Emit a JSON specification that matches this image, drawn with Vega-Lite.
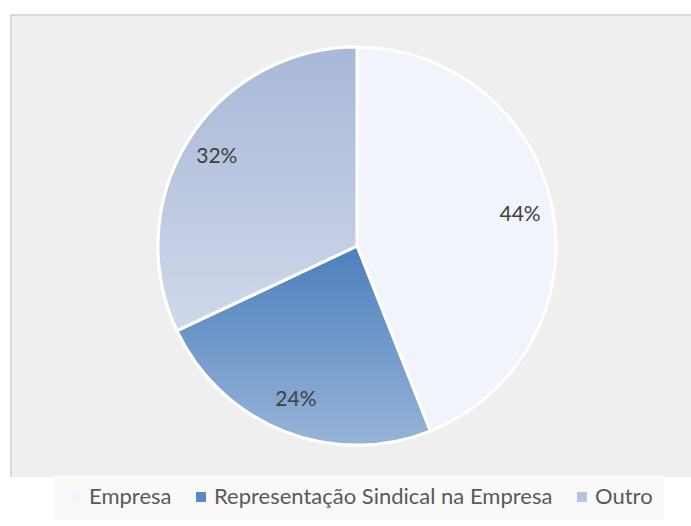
{
  "$schema": "https://vega.github.io/schema/vega-lite/v6.json",
  "autosize": "none",
  "padding": {"left": 11, "top": 15, "right": -12, "bottom": 49},
  "width": 692,
  "height": 462,
  "background": "white",
  "view": {"fill": "#efefef", "stroke": "#d9d9d9", "strokeWidth": 2, "strokeDash": [692, 1154, 462]},
  "config": {
    "font": "Lato"
  },
  "data": {
    "values": [
      {"cat": "Empresa", "value": 44, "label": "44%", "ord": 1},
      {"cat": "Representação Sindical na Empresa", "value": 24, "label": "24%", "ord": 2},
      {"cat": "Outro", "value": 32, "label": "32%", "ord": 3}
    ]
  },
  "layer": [
    {
      "mark": {"type": "arc", "outerRadius": 199, "stroke": "white", "strokeWidth": 3},
      "encoding": {
        "theta": {"field": "value", "type": "quantitative", "stack": true},
        "order": {"field": "ord", "type": "quantitative"},
        "color": {
          "field": "cat",
          "type": "nominal",
          "scale": {
            "domain": ["Empresa", "Representação Sindical na Empresa", "Outro"],
            "range": ["#f1f4fa", "#5b87c2", "#b6c4e0"]
          },
          "legend": {
            "title": null,
            "orient": "none",
            "direction": "horizontal",
            "legendX": 43,
            "legendY": 460,
            "padding": 11,
            "fillColor": "#f9f9f9",
            "symbolType": "square",
            "symbolSize": 100,
            "symbolStrokeWidth": 0,
            "labelFont": "Lato",
            "labelFontSize": 22,
            "labelColor": "#595959",
            "labelOffset": 2,
            "columnPadding": 18,
            "labelLimit": 500
          }
        }
      }
    },
    {
      "transform": [
        {"stack": "value", "groupby": [], "sort": [{"field": "ord"}], "as": ["v0", "v1"]},
        {"filter": "datum.cat === 'Representação Sindical na Empresa'"}
      ],
      "mark": {
        "type": "arc", "outerRadius": 199, "stroke": "white", "strokeWidth": 3,
        "fill": {"gradient": "linear", "x1": 0, "y1": 0, "x2": 0, "y2": 1, "stops": [{"offset": 0, "color": "#4c7fbc"}, {"offset": 1, "color": "#96b4d8"}]}
      },
      "encoding": {
        "theta": {"field": "v0", "type": "quantitative"},
        "theta2": {"field": "v1"}
      }
    },
    {
      "transform": [
        {"stack": "value", "groupby": [], "sort": [{"field": "ord"}], "as": ["v0", "v1"]},
        {"filter": "datum.cat === 'Outro'"}
      ],
      "mark": {
        "type": "arc", "outerRadius": 199, "stroke": "white", "strokeWidth": 3,
        "fill": {"gradient": "linear", "x1": 0, "y1": 0, "x2": 0, "y2": 1, "stops": [{"offset": 0, "color": "#a8b8d8"}, {"offset": 1, "color": "#d0d8ea"}]}
      },
      "encoding": {
        "theta": {"field": "v0", "type": "quantitative"},
        "theta2": {"field": "v1"}
      }
    },
    {
      "mark": {"type": "text", "radius": 166, "fontSize": 21, "font": "Lato", "fill": "#404040"},
      "encoding": {
        "theta": {"field": "value", "type": "quantitative", "stack": true},
        "order": {"field": "ord", "type": "quantitative"},
        "text": {"field": "label", "type": "nominal"}
      }
    }
  ]
}
